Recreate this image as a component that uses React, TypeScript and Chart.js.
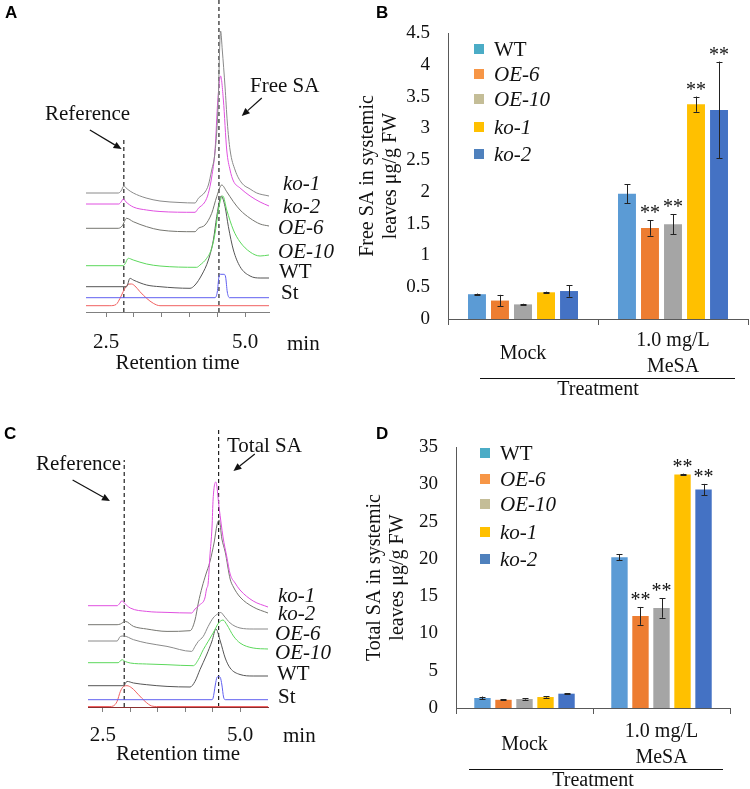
import React, { useEffect, useRef } from "react";
import { Chart, registerables } from "chart.js";

Chart.register(...registerables);

const SERIF = "'Liberation Serif', 'Times New Roman', Times, serif";
const SANS = "'Liberation Sans', Arial, sans-serif";

// ---------------- Bar chart data (panels B & D) ----------------
const genotypes = ["WT", "OE-6", "OE-10", "ko-1", "ko-2"];
const italicGenotype = [false, true, true, true, true];
const treatmentLabels: (string | string[])[] = ["Mock", ["1.0 mg/L", "MeSA"]];
const barColors = ["#5B9BD5", "#ED7D31", "#A5A5A5", "#FFC000", "#4472C4"];
const legendColors = ["#4BACC6", "#F79646", "#C4BD97", "#FFC000", "#4F81BD"];

const freeMock = [0.39, 0.29, 0.23, 0.42, 0.44];
const freeMeSA = [1.97, 1.43, 1.49, 3.38, 3.29];
const freeMockErr = [0.01, 0.09, 0.01, 0.01, 0.09];
const freeMeSAErr = [0.15, 0.12, 0.16, 0.12, 0.76];
const freeSig = ["", "**", "**", "**", "**"];

const totalMock = [1.34, 1.1, 1.2, 1.47, 1.92];
const totalMeSA = [20.2, 12.35, 13.4, 31.3, 29.3];
const totalMockErr = [0.2, 0.08, 0.08, 0.08, 0.08];
const totalMeSAErr = [0.4, 1.2, 1.3, 0.12, 0.75];
const totalSig = ["", "**", "**", "**", "**"];

// ---------------- Chromatogram data (panels A & C): [retention time (min), intensity] ----------------
const traceNames = ["ko-1", "ko-2", "OE-6", "OE-10", "WT", "St"];
const chromTicks = [2.5, 3, 3.5, 4, 4.5, 5];
const chromLabeledTicks = [2.5, 5];

const freeKo1 = [[2.14,119],[2.72,119],[2.77,121],[2.82,126],[2.88,123],[2.99,119],[3.22,114],[3.47,111],[3.83,109.5],[4.10,109],[4.16,113.7],[4.28,120],[4.34,127],[4.40,142],[4.46,160],[4.51,200],[4.56,281],[4.59,262],[4.64,225],[4.68,190],[4.73,162],[4.82,142],[4.94,129],[5.09,123],[5.21,119],[5.43,116]];
const freeKo2 = [[2.14,108],[2.73,108],[2.77,110],[2.81,113],[2.86,110],[2.99,105],[3.23,102],[3.47,100.5],[4.10,99.7],[4.16,103.7],[4.28,110.3],[4.34,118.7],[4.40,135],[4.46,162],[4.51,212],[4.56,236],[4.61,212],[4.67,162],[4.73,142],[4.79,131],[4.91,124],[5.09,116],[5.27,110],[5.43,106]];
const freeOE6 = [[2.14,83.7],[2.72,83.7],[2.79,86],[2.87,93.7],[2.99,90.3],[3.23,85.3],[3.47,82],[4.10,80.3],[4.16,83.7],[4.28,87],[4.40,98.7],[4.49,115.3],[4.58,127],[4.67,120.3],[4.79,110.3],[4.91,102],[5.09,93.7],[5.27,88],[5.43,86]];
const freeOE10 = [[2.14,46.3],[2.81,46.3],[2.84,48],[2.90,53.7],[2.99,52],[3.23,48],[3.47,46],[4.13,44.7],[4.19,47],[4.31,53.7],[4.40,63.7],[4.46,78.7],[4.52,102],[4.58,115.3],[4.60,116],[4.67,102],[4.79,82],[4.91,70],[5.09,60],[5.27,56],[5.43,57]];
const freeWT = [[2.14,25.3],[2.87,25.3],[2.93,33.7],[2.99,32],[3.23,27],[3.47,25.3],[4.01,23.7],[4.10,27],[4.22,37],[4.34,52],[4.43,72],[4.49,95.3],[4.55,113.7],[4.57,116],[4.64,105.3],[4.70,85.3],[4.79,62],[4.91,45.3],[5.09,36],[5.27,34],[5.43,34]];
const freeSt = [[2.14,14.3],[4.46,14.3],[4.50,20],[4.53,35],[4.56,37.7],[4.62,37.7],[4.65,35],[4.68,20],[4.72,14.3],[5.43,14.3]];
const freeRef = [[2.14,6.3],[2.57,6.3],[2.68,7.5],[2.72,10.3],[2.78,17],[2.84,23.7],[2.90,27.7],[2.96,28],[3.02,26],[3.11,20.3],[3.23,13.7],[3.35,8.7],[3.47,6.3],[5.43,6.3]];
const freeRefMarker = [[2.82,0],[2.82,175]];
const freeSAMarker = [[4.53,0],[4.53,312]];
const freeRefArrow = [[2.21,182],[2.78,163]];
const freeSAArrow = [[5.30,214],[4.94,196]];

const totalKo1 = [[2.23,101.3],[2.76,101.3],[2.80,103],[2.85,106.3],[2.89,104],[3.00,99],[3.30,95.6],[3.67,94.6],[4.12,94],[4.18,98],[4.27,102.3],[4.36,109],[4.39,118],[4.42,124],[4.45,150],[4.49,180],[4.51,208],[4.56,225],[4.62,199],[4.69,170],[4.76,150],[4.82,133],[4.91,124],[5.00,117],[5.24,106],[5.51,100]];
const totalKo2 = [[2.23,82.3],[2.76,82.3],[2.82,83],[2.91,85.6],[3.06,80.6],[3.30,78],[3.67,75.6],[4.09,76.3],[4.18,87],[4.24,104],[4.31,120],[4.38,133],[4.45,145],[4.53,165],[4.58,182],[4.62,187],[4.67,168],[4.73,155],[4.82,128],[4.88,120],[5.00,110],[5.24,100],[5.51,94]];
const totalOE6 = [[2.23,66],[2.76,66],[2.82,70.6],[2.88,71],[3.06,67.3],[3.30,64],[3.67,60.6],[4.12,55.6],[4.18,60.6],[4.24,65.6],[4.33,70.6],[4.42,80.6],[4.51,89],[4.59,93],[4.65,94.5],[4.71,91],[4.82,84],[5.00,79],[5.24,78],[5.51,78]];
const totalOE10 = [[2.23,44.3],[2.78,44.3],[2.85,47.3],[2.91,45.5],[3.00,44],[3.30,43],[3.67,42.3],[4.15,41.3],[4.24,47.3],[4.33,57.3],[4.42,65.6],[4.51,74],[4.61,84],[4.69,87],[4.76,82.3],[4.88,71],[5.00,64],[5.24,59],[5.51,58]];
const totalWT = [[2.23,21.3],[2.88,21.3],[2.94,25.6],[3.06,24],[3.30,22.3],[3.67,20.6],[4.09,20],[4.18,25.6],[4.27,37.3],[4.39,52],[4.49,66],[4.56,78],[4.64,66],[4.73,49],[4.82,39],[5.00,32.5],[5.24,31],[5.51,31]];
const totalSt = [[2.23,7.3],[4.49,7.3],[4.51,9],[4.55,22],[4.58,29.6],[4.61,30.5],[4.64,29.6],[4.67,22],[4.70,10],[4.73,7.3],[5.51,7.3]];
const totalRef = [[2.23,0.5],[2.63,0.5],[2.69,1],[2.76,5.6],[2.82,15.6],[2.88,20.6],[2.94,21.3],[3.03,19],[3.15,12.3],[3.27,5.6],[3.39,1],[3.48,0.5],[5.51,0.5]];
const totalRefMarker = [[2.89,0],[2.89,247]];
const totalSAMarker = [[4.61,0],[4.61,279]];
const totalRefArrow = [[1.95,227],[2.63,206]];
const totalSAArrow = [[5.27,253],[4.88,236]];

// ---------------- plugins ----------------
function arrowPlugin(arrows: number[][][]) {
  return {
    id: "arrows",
    afterDatasetsDraw(chart: any) {
      const { ctx, scales } = chart;
      const xs = scales.x, ys = scales.y;
      ctx.save();
      ctx.strokeStyle = "#111";
      ctx.fillStyle = "#111";
      ctx.lineWidth = 1.2;
      arrows.forEach(([[t1, v1], [t2, v2]]) => {
        const x1 = xs.getPixelForValue(t1), y1 = ys.getPixelForValue(v1);
        const x2 = xs.getPixelForValue(t2), y2 = ys.getPixelForValue(v2);
        const a = Math.atan2(y2 - y1, x2 - x1);
        const hl = 8, hw = 3.5;
        const bx = x2 - hl * Math.cos(a), by = y2 - hl * Math.sin(a);
        ctx.beginPath();
        ctx.moveTo(x1, y1);
        ctx.lineTo(bx, by);
        ctx.stroke();
        ctx.beginPath();
        ctx.moveTo(x2, y2);
        ctx.lineTo(bx + hw * Math.sin(a), by - hw * Math.cos(a));
        ctx.lineTo(bx - hw * Math.sin(a), by + hw * Math.cos(a));
        ctx.closePath();
        ctx.fill();
      });
      ctx.restore();
    },
  };
}

function barExtras(errors: number[][], sig: string[][], line: { dy: number; inL: number; inR: number }) {
  return {
    id: "barExtras",
    afterDatasetsDraw(chart: any) {
      const { ctx } = chart;
      const ys = chart.scales.y;
      ctx.save();
      ctx.strokeStyle = "#222";
      ctx.lineWidth = 1;
      chart.data.datasets.forEach((ds: any, i: number) => {
        const meta = chart.getDatasetMeta(i);
        meta.data.forEach((bar: any, j: number) => {
          const v = ds.data[j];
          const e = errors[i][j];
          const x = Math.round(bar.x) + 0.5;
          const yl = ys.getPixelForValue(v - e);
          const yh = ys.getPixelForValue(v + e);
          const cap = 3;
          ctx.beginPath();
          ctx.moveTo(x, yl); ctx.lineTo(x, yh);
          ctx.moveTo(x - cap, Math.round(yl) + 0.5); ctx.lineTo(x + cap, Math.round(yl) + 0.5);
          ctx.moveTo(x - cap, Math.round(yh) + 0.5); ctx.lineTo(x + cap, Math.round(yh) + 0.5);
          ctx.stroke();
          const s = sig[i][j];
          if (s) {
            ctx.fillStyle = "#111";
            ctx.font = `20px ${SERIF}`;
            ctx.textAlign = "center";
            ctx.textBaseline = "alphabetic";
            ctx.fillText(s, bar.x, yh - 1);
          }
        });
      });
      ctx.restore();
    },
    afterDraw(chart: any) {
      const { ctx, chartArea } = chart;
      ctx.save();
      ctx.strokeStyle = "#111";
      ctx.lineWidth = 1;
      const y = Math.round(chartArea.bottom + line.dy) + 0.5;
      ctx.beginPath();
      ctx.moveTo(chartArea.left + line.inL, y);
      ctx.lineTo(chartArea.right - line.inR, y);
      ctx.stroke();
      ctx.restore();
    },
  };
}

// ---------------- configs ----------------
function chromConfig(p: any) {
  const datasets: any[] = p.traces.map((tr: any) => ({
    data: tr.pts.map(([x, y]: number[]) => ({ x, y })),
    borderColor: tr.color,
    borderWidth: 1,
    showLine: true,
    pointRadius: 0,
    cubicInterpolationMode: "monotone",
    fill: false,
  }));
  [p.refLine, p.saLine].forEach((l: number[][]) =>
    datasets.push({
      data: l.map(([x, y]) => ({ x, y })),
      borderColor: "#222",
      borderWidth: 1.2,
      borderDash: [4, 3],
      showLine: true,
      pointRadius: 0,
      tension: 0,
    })
  );
  return {
    type: "scatter",
    data: { datasets },
    options: {
      animation: false,
      responsive: false,
      events: [],
      layout: { padding: { left: p.padLeft, right: p.padRight, top: 0, bottom: 0 } },
      plugins: { legend: { display: false }, tooltip: { enabled: false } },
      scales: {
        x: {
          type: "linear",
          min: p.xMin,
          max: p.xMax,
          afterBuildTicks: (s: any) => {
            s.ticks = chromTicks.map((v) => ({ value: v }));
          },
          afterFit: (s: any) => {
            s.height = p.canvasH - 312;
          },
          border: { display: true, color: p.axisColor, width: 1 },
          grid: { display: true, drawOnChartArea: false, drawTicks: true, tickLength: 5, color: "#808080" },
          ticks: {
            autoSkip: false,
            maxRotation: 0,
            color: "#111",
            padding: p.tickPad,
            font: { family: SERIF, size: 21, lineHeight: 1.2 },
            callback: (v: number) => (chromLabeledTicks.includes(v) ? v.toFixed(1) : ""),
          },
          title: {
            display: true,
            text: "Retention time",
            color: "#111",
            font: { family: SERIF, size: 21, lineHeight: 0.8 },
            padding: { top: 0, bottom: p.titlePad },
          },
        },
        y: { display: false, min: 0, max: 312 },
      },
    },
    plugins: [arrowPlugin(p.arrows)],
  };
}

function barConfig(p: any) {
  return {
    type: "bar",
    data: {
      labels: treatmentLabels,
      datasets: genotypes.map((g, i) => ({
        label: g,
        data: [p.mock[i], p.mesa[i]],
        backgroundColor: barColors[i],
        borderWidth: 0,
        categoryPercentage: 0.767,
        barPercentage: 0.78,
      })),
    },
    options: {
      animation: false,
      responsive: false,
      events: [],
      layout: { padding: { top: p.padTop, right: p.padRight, left: 0, bottom: 0 } },
      plugins: { legend: { display: false }, tooltip: { enabled: false } },
      scales: {
        x: {
          afterFit: (s: any) => {
            s.height = p.xHeight;
          },
          grid: { display: true, drawOnChartArea: false, drawTicks: true, tickLength: 6, color: "#595959", offset: true },
          border: { display: true, color: "#595959", width: 1 },
          ticks: {
            color: "#111",
            font: { family: SERIF, size: 20, lineHeight: 1.3 },
            padding: p.xTickPad,
            crossAlign: "center",
            maxRotation: 0,
            autoSkip: false,
          },
          title: {
            display: true,
            text: "Treatment",
            color: "#111",
            font: { family: SERIF, size: 20, lineHeight: 0.8 },
            padding: { top: 0, bottom: p.titlePad },
          },
        },
        y: {
          min: 0,
          max: p.yMax,
          afterFit: (s: any) => {
            s.width = p.yWidth;
          },
          grid: { display: false },
          border: { display: true, color: "#595959", width: 1 },
          ticks: {
            stepSize: p.yStep,
            color: "#111",
            font: { family: SERIF, size: 19 },
            padding: 10,
            callback: (v: number) => String(v),
          },
          title: {
            display: true,
            text: p.yTitle,
            color: "#111",
            font: { family: SERIF, size: 20, lineHeight: 1.15 },
            padding: { top: p.yTitlePad, bottom: 0 },
          },
        },
      },
    },
    plugins: [
      barExtras(
        genotypes.map((_, i) => [p.mockErr[i], p.mesaErr[i]]),
        genotypes.map((_, i) => ["", p.sig[i]]),
        p.line
      ),
    ],
  };
}

// ---------------- components ----------------
function ChartBox({ left, top, width, height, build }: any) {
  const ref = useRef<HTMLCanvasElement>(null);
  useEffect(() => {
    const chart = new Chart(ref.current as HTMLCanvasElement, build());
    return () => chart.destroy();
  }, []);
  return (
    <canvas
      ref={ref}
      width={width}
      height={height}
      style={{ position: "absolute", left, top, width, height }}
    />
  );
}

function Txt({ x, cy, children, italic, size = 21 }: any) {
  return (
    <div
      style={{
        position: "absolute",
        left: x,
        top: cy - size / 2,
        fontFamily: SERIF,
        fontSize: size,
        lineHeight: `${size}px`,
        fontStyle: italic ? "italic" : "normal",
        whiteSpace: "nowrap",
        color: "#111",
      }}
    >
      {children}
    </div>
  );
}

function Letter({ x, y, children }: any) {
  return (
    <div
      style={{
        position: "absolute",
        left: x,
        top: y,
        fontFamily: SANS,
        fontWeight: "bold",
        fontSize: 17,
        lineHeight: "17px",
        color: "#000",
      }}
    >
      {children}
    </div>
  );
}

const legendOffsets = [0, 25.5, 50.5, 78.5, 105.5];

function Legend({ x, cy }: any) {
  return (
    <>
      {genotypes.map((g, i) => (
        <div
          key={g}
          style={{
            position: "absolute",
            left: x,
            top: cy + legendOffsets[i] - 11,
            height: 22,
            display: "flex",
            alignItems: "center",
            whiteSpace: "nowrap",
          }}
        >
          <span style={{ display: "inline-block", width: 10, height: 10, background: legendColors[i], marginRight: 10 }} />
          <span
            style={{
              fontFamily: SERIF,
              fontSize: 21,
              lineHeight: "22px",
              fontStyle: italicGenotype[i] ? "italic" : "normal",
              color: "#111",
            }}
          >
            {g}
          </span>
        </div>
      ))}
    </>
  );
}

const GRAY1 = "#8a8a8a";
const GRAY2 = "#767670";
const DARK = "#555555";
const MAGENTA = "#e050e0";
const GREEN = "#5cd85c";
const BLUE = "#6060f0";
const RED = "#f06060";

export default function App() {
  const buildA = () =>
    chromConfig({
      traces: [
        { pts: freeKo1, color: GRAY1 },
        { pts: freeKo2, color: MAGENTA },
        { pts: freeOE6, color: GRAY2 },
        { pts: freeOE10, color: GREEN },
        { pts: freeWT, color: DARK },
        { pts: freeSt, color: BLUE },
        { pts: freeRef, color: RED },
      ],
      refLine: freeRefMarker,
      saLine: freeSAMarker,
      arrows: [freeRefArrow, freeSAArrow],
      xMin: 2.14,
      xMax: 5.43,
      padLeft: 86,
      padRight: 76,
      canvasH: 395,
      tickPad: 13,
      titlePad: 23,
      axisColor: "#808080",
    });
  const buildC = () =>
    chromConfig({
      traces: [
        { pts: totalKo1, color: MAGENTA },
        { pts: totalKo2, color: GRAY2 },
        { pts: totalOE6, color: GRAY1 },
        { pts: totalOE10, color: GREEN },
        { pts: totalWT, color: DARK },
        { pts: totalSt, color: BLUE },
        { pts: totalRef, color: RED },
      ],
      refLine: totalRefMarker,
      saLine: totalSAMarker,
      arrows: [totalRefArrow, totalSAArrow],
      xMin: 2.23,
      xMax: 5.51,
      padLeft: 88,
      padRight: 77,
      canvasH: 394,
      tickPad: 11,
      titlePad: 26,
      axisColor: "#8a3030",
    });
  const buildB = () =>
    barConfig({
      mock: freeMock,
      mesa: freeMeSA,
      mockErr: freeMockErr,
      mesaErr: freeMeSAErr,
      sig: freeSig,
      yMax: 4.5,
      yStep: 0.5,
      yTitle: ["Free SA in systemic", "leaves μg/g FW"],
      padTop: 33,
      padRight: 2,
      yWidth: 103,
      xHeight: 83,
      yTitlePad: 11,
      xTickPad: 16,
      titlePad: 4,
      line: { dy: 59, inL: 32, inR: 13 },
    });
  const buildD = () =>
    barConfig({
      mock: totalMock,
      mesa: totalMeSA,
      mockErr: totalMockErr,
      mesaErr: totalMeSAErr,
      sig: totalSig,
      yMax: 35,
      yStep: 5,
      yTitle: ["Total SA in systemic", "leaves μg/g FW"],
      padTop: 55,
      padRight: 20,
      yWidth: 111,
      xHeight: 81,
      yTitlePad: 18,
      xTickPad: 18,
      titlePad: 0,
      line: { dy: 61, inL: 13, inR: 7 },
    });

  return (
    <div style={{ position: "absolute", left: 0, top: 0, width: 750, height: 789, background: "#fff", overflow: "hidden" }}>
      <ChartBox left={0} top={0} width={345} height={395} build={buildA} />
      <ChartBox left={0} top={395} width={345} height={394} build={buildC} />
      <ChartBox left={345} top={0} width={405} height={402} build={buildB} />
      <ChartBox left={345} top={392} width={405} height={397} build={buildD} />

      <Letter x={5} y={4}>A</Letter>
      <Letter x={376} y={4}>B</Letter>
      <Letter x={4} y={425}>C</Letter>
      <Letter x={376} y={425}>D</Letter>

      {/* Panel A annotations */}
      <Txt x={45} cy={113}>Reference</Txt>
      <Txt x={250} cy={85}>Free SA</Txt>
      <Txt x={283} cy={183} italic>{traceNames[0]}</Txt>
      <Txt x={283} cy={206} italic>{traceNames[1]}</Txt>
      <Txt x={278} cy={227} italic>{traceNames[2]}</Txt>
      <Txt x={278} cy={251.5} italic>{traceNames[3]}</Txt>
      <Txt x={279} cy={271.5}>{traceNames[4]}</Txt>
      <Txt x={281} cy={292.5}>{traceNames[5]}</Txt>
      <Txt x={287} cy={343}>min</Txt>

      {/* Panel C annotations */}
      <Txt x={36} cy={463}>Reference</Txt>
      <Txt x={227} cy={445}>Total SA</Txt>
      <Txt x={278} cy={595} italic>{traceNames[0]}</Txt>
      <Txt x={278} cy={613.5} italic>{traceNames[1]}</Txt>
      <Txt x={275} cy={633.5} italic>{traceNames[2]}</Txt>
      <Txt x={275} cy={652} italic>{traceNames[3]}</Txt>
      <Txt x={277} cy={673.5}>{traceNames[4]}</Txt>
      <Txt x={278} cy={696.5}>{traceNames[5]}</Txt>
      <Txt x={283} cy={735}>min</Txt>

      <Legend x={474} cy={48.7} />
      <Legend x={480} cy={453} />
    </div>
  );
}
